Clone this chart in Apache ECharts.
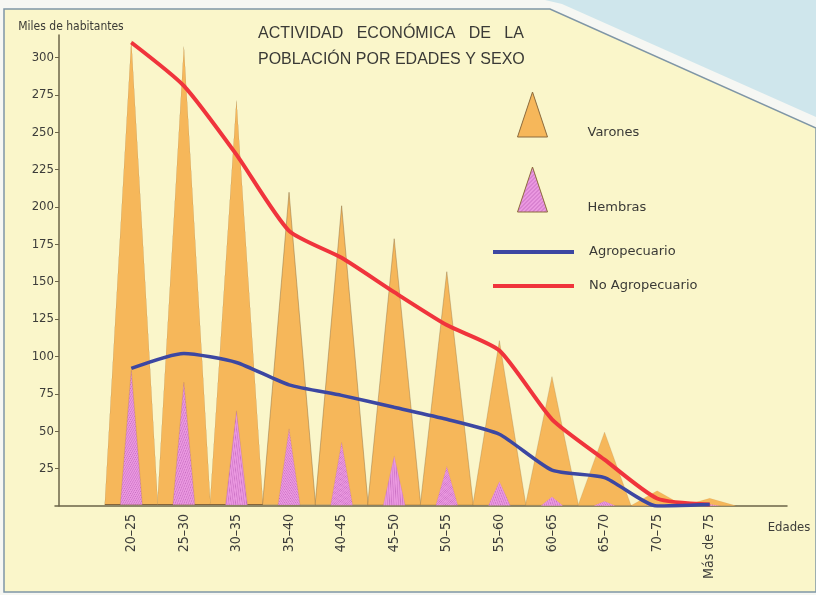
<!DOCTYPE html>
<html>
<head>
<meta charset="utf-8">
<script src="https://cdn.jsdelivr.net/npm/echarts@6/dist/echarts.min.js"></script>
<style>html,body{margin:0;padding:0;background:#fff}#c{width:816px;height:595px}</style>
</head>
<body>
<div id="c"></div>
<script>
const categories = ['20–25','25–30','30–35','35–40','40–45','45–50','50–55','55–60','60–65','65–70','70–75','Más de 75'];
const varones = [310, 306, 270, 209, 200, 178, 156, 110, 86, 49, 10, 5];
const hembras = [90, 82, 63, 51, 42, 33, 26, 16, 6, 3, 1, 1];
const agropecuario = [92, 102, 96, 81, 74, 66, 58, 48, 24, 19, 0, 1];
const noAgropecuario = [310, 281, 235, 184, 166, 143, 121, 104, 58, 31, 5, 1];
const yTicks = [25, 50, 75, 100, 125, 150, 175, 200, 225, 250, 275, 300];

const narrow = '"Liberation Sans Narrow", "DejaVu Sans Condensed", sans-serif';
const pinkCanvas = document.createElement('canvas');
pinkCanvas.width = 4; pinkCanvas.height = 4;
(function(){
  const g = pinkCanvas.getContext('2d');
  g.fillStyle = '#ea98e0'; g.fillRect(0,0,4,4);
  g.strokeStyle = '#c96ec3'; g.lineWidth = 1;
  g.beginPath(); g.moveTo(0,4); g.lineTo(4,0); g.moveTo(-1,1); g.lineTo(1,-1); g.moveTo(3,5); g.lineTo(5,3); g.stroke();
})();
const pinkFill = {image: pinkCanvas, repeat: 'repeat'};

const chart = echarts.init(document.getElementById('c'), null, {renderer: 'canvas'});
chart.setOption({
  backgroundColor: '#f6f7f3',
  animation: false,
  graphic: [
    {type: 'polygon', z: -10, shape: {points: [[545,0],[816,0],[816,117],[562,4]]}, style: {fill: '#cfe6ec'}},
    {type: 'polygon', z: -9, shape: {points: [[4,9],[550,9],[816,128],[816,592],[4,592]]}, style: {fill: '#faf6ca', stroke: '#7f96a6', lineWidth: 1.5}}
  ],
  title: {
    text: 'ACTIVIDAD   ECONÓMICA   DE   LA\nPOBLACIÓN POR EDADES Y SEXO',
    left: 253, top: 16,
    textStyle: {fontFamily: '"Liberation Sans", Arial, sans-serif', fontWeight: 'normal', fontSize: 16, lineHeight: 26, color: '#3a3a36'}
  },
  legend: [
    {
      data: [{name: 'Varones', icon: 'triangle'}, {name: 'Hembras', icon: 'triangle'}],
      orient: 'vertical', left: 517, top: 87.5, padding: 0,
      itemWidth: 30, itemHeight: 45, itemGap: 21,
      selectedMode: false,
      formatter: '\n\n{name}',
      itemStyle: {borderColor: '#8c6a3c', borderWidth: 1},
      textStyle: {fontFamily: '"DejaVu Sans", sans-serif', fontSize: 13, lineHeight: 18, color: '#3a3a36', padding: [0, 0, 0, 35]}
    },
    {
      data: ['Agropecuario', 'No Agropecuario'],
      orient: 'vertical', left: 491, top: 244, padding: 0,
      itemWidth: 81, itemHeight: 4, itemGap: 18,
      selectedMode: false,
      lineStyle: {width: 4},
      textStyle: {fontFamily: '"DejaVu Sans", sans-serif', fontSize: 13, lineHeight: 16, color: '#3a3a36', padding: [0, 0, 0, 10]}
    }
  ],
  grid: [
    {left: 105, width: 631, top: 35, bottom: 89},
    {left: 55, right: 29, top: 35, bottom: 89}
  ],
  xAxis: [
    {
      type: 'category', gridIndex: 0, data: categories,
      axisLine: {show: false}, axisTick: {show: false},
      axisLabel: {rotate: 90, margin: 8, fontFamily: narrow, fontSize: 14, color: '#3d3d3a', interval: 0}
    },
    {
      type: 'value', gridIndex: 1, min: 0, max: 1,
      axisLine: {show: true, lineStyle: {color: '#6b6448', width: 1.5}},
      axisTick: {show: false}, axisLabel: {show: false}, splitLine: {show: false},
      name: 'Edades', nameLocation: 'end', nameGap: 2,
      nameTextStyle: {fontFamily: narrow, fontSize: 13, color: '#3d3d3a', align: 'center', verticalAlign: 'top', padding: [15, 0, 0, 0]}
    }
  ],
  yAxis: [
    {
      type: 'value', gridIndex: 0, min: 0, max: 315, interval: 25, offset: 46,
      axisLine: {show: true, lineStyle: {color: '#6b6448', width: 1.5}},
      axisTick: {show: true, length: 4, customValues: yTicks, lineStyle: {color: '#6b6448'}},
      axisLabel: {customValues: yTicks, margin: 5, fontFamily: narrow, fontSize: 13, color: '#3d3d3a'},
      splitLine: {show: false},
      name: 'Miles de habitantes', nameLocation: 'end', nameGap: 8,
      nameTextStyle: {fontFamily: narrow, fontSize: 12, color: '#3a3a36', align: 'center', verticalAlign: 'middle', padding: [0, 0, 0, 24]}
    },
    {type: 'value', gridIndex: 1, show: false, min: 0, max: 1}
  ],
  series: [
    {
      name: 'Varones', type: 'pictorialBar', xAxisIndex: 0, yAxisIndex: 0,
      symbol: 'triangle', symbolSize: [53, '100%'], barWidth: 53, barGap: '-100%',
      itemStyle: {color: '#f6b75a', borderColor: '#86653a', borderWidth: 1},
      data: varones, z: 2
    },
    {
      name: 'Hembras', type: 'pictorialBar', xAxisIndex: 0, yAxisIndex: 0,
      symbol: 'triangle', symbolSize: [22, '100%'], barWidth: 53, barGap: '-100%',
      itemStyle: {color: pinkFill, borderColor: '#8c5a50', borderWidth: 1},
      data: hembras, z: 3
    },
    {
      name: 'No Agropecuario', type: 'line', xAxisIndex: 0, yAxisIndex: 0,
      data: noAgropecuario, smooth: 0.2, symbol: 'none', showSymbol: false,
      lineStyle: {color: '#f0343c', width: 4}, itemStyle: {color: '#f0343c'}, z: 4
    },
    {
      name: 'Agropecuario', type: 'line', xAxisIndex: 0, yAxisIndex: 0,
      data: agropecuario, smooth: 0.2, symbol: 'none', showSymbol: false,
      lineStyle: {color: '#3c47a2', width: 3.5}, itemStyle: {color: '#3c47a2'}, z: 5
    }
  ]
});
</script>
</body>
</html>
